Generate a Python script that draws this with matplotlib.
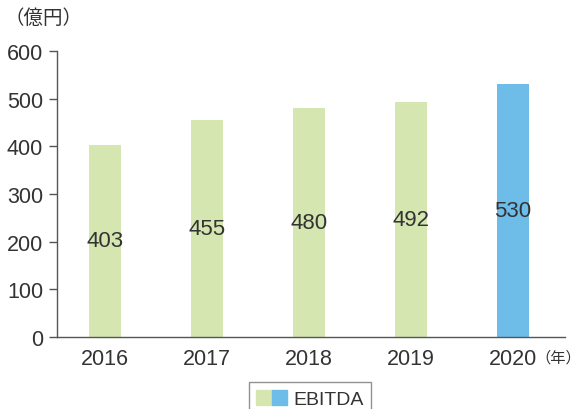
import matplotlib.pyplot as plt
from matplotlib.patches import Patch
from matplotlib.legend_handler import HandlerTuple

plt.rcParams['font.family'] = ['Liberation Sans', 'Noto Sans CJK JP', 'DejaVu Sans']

years = ['2016', '2017', '2018', '2019', '2020']
ebitda = [403, 455, 480, 492, 530]
colors = ['#d5e6b0', '#d5e6b0', '#d5e6b0', '#d5e6b0', '#6ebde9']
yticks = [0, 100, 200, 300, 400, 500, 600]

text_color = '#333333'
line_color = '#555555'

fig = plt.figure(figsize=(5.82, 4.10), dpi=100)
ax = fig.add_axes([57 / 582, 72 / 410, 508 / 582, 286 / 410])

x = range(len(years))
ax.bar(x, ebitda, width=0.31, color=colors)
for i, v in enumerate(ebitda):
    ax.text(i, v / 2, str(v), ha='center', va='center', fontsize=16, color=text_color)

ax.set_xlim(-0.47, 4.51)
ax.set_ylim(0, 600)
ax.set_yticks(yticks)
ax.set_xticks(list(x))
ax.set_xticklabels(years)
ax.tick_params(axis='y', direction='out', length=6, width=1, color=line_color,
               labelsize=15.5, labelcolor=text_color, pad=4)
ax.tick_params(axis='x', length=0, labelsize=15.5, labelcolor=text_color, pad=8)

for s in ['top', 'right']:
    ax.spines[s].set_visible(False)
for s in ['left', 'bottom']:
    ax.spines[s].set_color(line_color)
    ax.spines[s].set_linewidth(1)

fig.text(4 / 582, 1 - 18 / 410, '（億円）', fontsize=14, color=text_color,
         ha='left', va='center', family=['Noto Sans CJK JP'])
fig.text(581 / 582, 1 - 358 / 410, '（年）', fontsize=11, color=text_color,
         ha='right', va='center', family=['Noto Sans CJK JP'])

handle = (Patch(color='#d5e6b0'), Patch(color='#6ebde9'))
leg = fig.legend([handle], ['EBITDA'], handler_map={tuple: HandlerTuple(ndivide=None, pad=0)},
                 loc='upper center', bbox_to_anchor=(310 / 582, 1 - 383 / 410),
                 fancybox=False, frameon=True, fontsize=14, handlelength=1.6,
                 handleheight=0.8, handletextpad=0.3, borderpad=0.4, borderaxespad=0)
leg.get_frame().set_edgecolor('#777777')
leg.get_frame().set_linewidth(1)
for t in leg.get_texts():
    t.set_color(text_color)

fig.savefig('out.png', dpi=100)
